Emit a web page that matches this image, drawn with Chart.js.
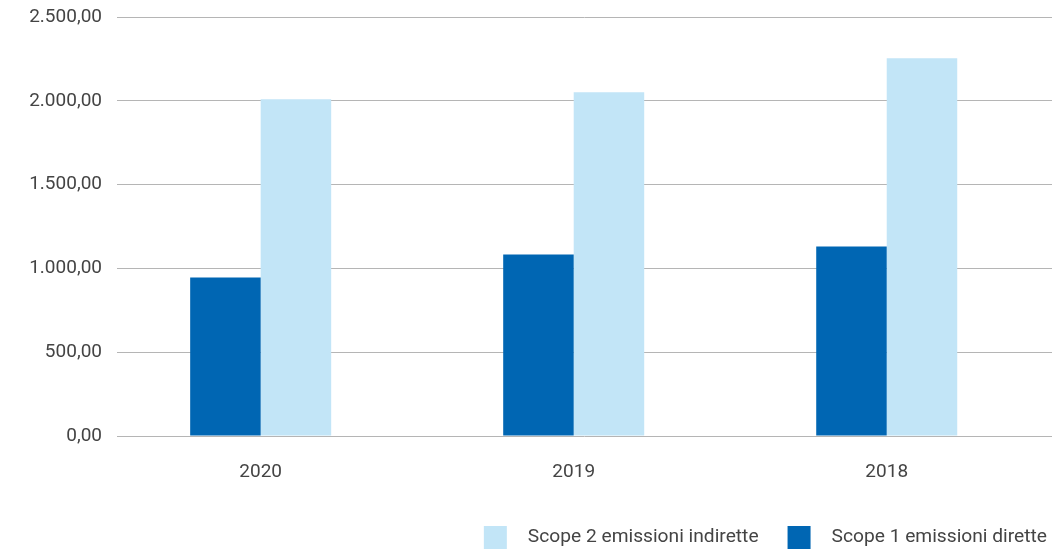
<!DOCTYPE html>
<html lang="it">
<head>
<meta charset="utf-8">
<title>Emissioni Scope 1 e Scope 2</title>
<script src="https://cdn.jsdelivr.net/npm/chart.js@4.4.1/dist/chart.umd.min.js"></script>
<style>
  html, body { margin: 0; padding: 0; background: #ffffff; }
  #wrap { width: 1052px; height: 550px; position: relative; }
</style>
</head>
<body>
<div id="wrap"><canvas id="chart" width="1052" height="550"></canvas></div>
<script>
// Anni (categorie) e valori delle due serie
const years = ['2020', '2019', '2018'];
const scope1 = [945, 1083, 1131];
const scope2 = [2009, 2051, 2254];
const seriesNames = ['Scope 1 emissioni dirette', 'Scope 2 emissioni indirette'];
const yTicks = [0, 500, 1000, 1500, 2000, 2500];

const colors = { scope1: '#0066b3', scope2: '#c2e5f7', text: '#444444', grid: '#b5b5b5' };
const FONT = 'Roboto, "Noto Sans", sans-serif';
const FONT_SIZE = 19;

// Formato numerico italiano: 2.500,00
function fmtIt(v) {
  const fixed = Math.abs(v).toFixed(2);
  const [intPart, dec] = fixed.split('.');
  const grouped = intPart.replace(/\B(?=(\d{3})+(?!\d))/g, '.');
  return (v < 0 ? '-' : '') + grouped + ',' + dec;
}

const toPoints = arr => arr.map((v, i) => ({ x: i, y: v }));

// Legenda disegnata sotto il grafico, allineata a destra, in ordine inverso
const bottomLegend = {
  id: 'bottomLegend',
  afterDraw(chart) {
    const ctx = chart.ctx;
    const items = chart.data.datasets.slice().reverse();
    const box = 23, gap = 21, spacing = 29, right = 1047, yMid = 537.5;
    ctx.save();
    ctx.font = '19.2px ' + FONT;
    ctx.textBaseline = 'middle';
    ctx.textAlign = 'left';
    const widths = items.map(d => ctx.measureText(d.label).width);
    let total = 0;
    widths.forEach((w, i) => { total += box + gap + w + (i ? spacing : 0); });
    let x = right - total;
    items.forEach((d, i) => {
      ctx.fillStyle = d.backgroundColor;
      ctx.fillRect(x, Math.round(yMid - box / 2), box, box);
      ctx.fillStyle = colors.text;
      ctx.fillText(d.label, x + box + gap, yMid);
      x += box + gap + widths[i] + spacing;
    });
    ctx.restore();
  }
};

new Chart(document.getElementById('chart'), {
  type: 'bar',
  data: {
    datasets: [
      { label: seriesNames[0], data: toPoints(scope1), backgroundColor: colors.scope1, borderWidth: 0 },
      { label: seriesNames[1], data: toPoints(scope2), backgroundColor: colors.scope2, borderWidth: 0 }
    ]
  },
  options: {
    responsive: false,
    animation: false,
    events: [],
    layout: { padding: { top: 17, right: 0, bottom: 0, left: 0 } },
    datasets: { bar: { categoryPercentage: 0.4505, barPercentage: 1 } },
    plugins: {
      legend: { display: false },
      tooltip: { enabled: false }
    },
    scales: {
      x: {
        type: 'linear',
        offset: false,
        min: -0.459,
        max: 2.528,
        grid: { display: false },
        border: { display: false },
        afterFit(scale) { scale.height = 114; },
        afterBuildTicks(scale) { scale.ticks = years.map((_, i) => ({ value: i })); },
        ticks: {
          includeBounds: false,
          stepSize: 1,
          padding: 17,
          color: colors.text,
          font: { family: FONT, size: FONT_SIZE },
          callback: v => years[v]
        }
      },
      y: {
        min: yTicks[0],
        max: yTicks[yTicks.length - 1],
        afterFit(scale) {
          scale.width = 117;
          scale.paddingTop = 0;
          scale.paddingBottom = 0;
        },
        afterBuildTicks(scale) { scale.ticks = yTicks.map(v => ({ value: v })); },
        grid: { color: colors.grid, lineWidth: 1, drawTicks: false },
        border: { display: false },
        ticks: {
          padding: 15,
          color: colors.text,
          font: { family: FONT, size: FONT_SIZE },
          callback: v => fmtIt(v)
        }
      }
    }
  },
  plugins: [bottomLegend]
});
</script>
</body>
</html>
